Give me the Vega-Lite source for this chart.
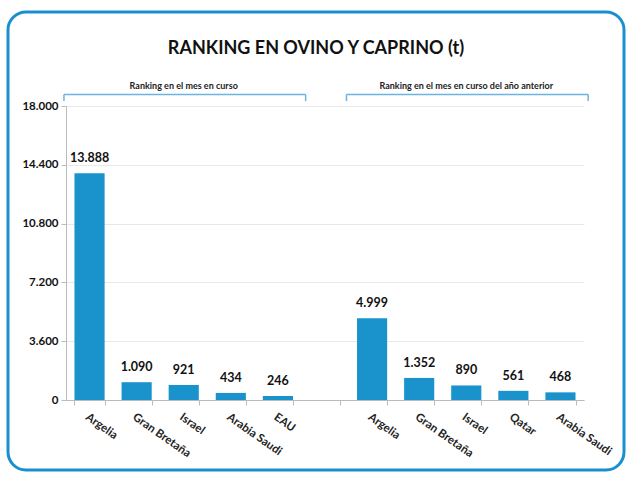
{
  "$schema": "https://vega.github.io/schema/vega-lite/v6.json",
  "width": 616,
  "height": 458,
  "autosize": {"type": "none"},
  "padding": {"left": 8, "top": 12, "right": 3, "bottom": 7},
  "background": "white",
  "config": {
    "locale": {"number": {"decimal": ",", "thousands": ".", "grouping": [3], "currency": ["", " €"]}},
    "view": {"stroke": "#1a8fd0", "strokeWidth": 3, "cornerRadius": 18},
    "font": "Lato"
  },
  "title": {
    "text": "RANKING EN OVINO Y CAPRINO (t)",
    "font": "Lato",
    "fontSize": 18,
    "fontWeight": "bold",
    "color": "#111111",
    "anchor": "middle",
    "frame": "group",
    "offset": -46
  },
  "datasets": {
    "paises": [
      {"clave": "01 Argelia", "toneladas": 13888},
      {"clave": "02 Gran Bretaña", "toneladas": 1090},
      {"clave": "03 Israel", "toneladas": 921},
      {"clave": "04 Arabia Saudi", "toneladas": 434},
      {"clave": "05 EAU", "toneladas": 246},
      {"clave": "07 Argelia", "toneladas": 4999},
      {"clave": "08 Gran Bretaña", "toneladas": 1352},
      {"clave": "09 Israel", "toneladas": 890},
      {"clave": "10 Qatar", "toneladas": 561},
      {"clave": "11 Arabia Saudi", "toneladas": 468}
    ],
    "grupos": [
      {"grupo": "Ranking en el mes en curso", "inicio": "01 Argelia", "fin": "05 EAU", "centro": "03 Israel"},
      {"grupo": "Ranking en el mes en curso del año anterior", "inicio": "07 Argelia", "fin": "11 Arabia Saudi", "centro": "09 Israel"}
    ]
  },
  "layer": [
    {
      "data": {"name": "paises"},
      "mark": {"type": "bar", "color": "#1a93cd"},
      "encoding": {
        "x": {
          "field": "clave",
          "type": "nominal",
          "scale": {
            "domain": ["01 Argelia", "02 Gran Bretaña", "03 Israel", "04 Arabia Saudi", "05 EAU", "06", "07 Argelia", "08 Gran Bretaña", "09 Israel", "10 Qatar", "11 Arabia Saudi"],
            "range": [58, 576],
            "paddingInner": 0.36,
            "paddingOuter": 0.18
          },
          "axis": {
            "title": null,
            "labelExpr": "slice(datum.label, 3)",
            "labelAngle": 35,
            "labelAlign": "left",
            "labelBaseline": "top",
            "labelFontSize": 11.5,
            "labelFontWeight": "bold",
            "labelColor": "#222222",
            "labelPadding": 6,
            "tickBand": "extent",
            "domainColor": "#bbbbbb",
            "tickColor": "#bbbbbb",
            "tickSize": 5,
            "grid": false,
            "offset": -70
          }
        },
        "y": {
          "field": "toneladas",
          "type": "quantitative",
          "scale": {"domain": [0, 18000], "range": [388, 94], "nice": false},
          "axis": {
            "title": null,
            "values": [0, 3600, 7200, 10800, 14400, 18000],
            "format": ",d",
            "labelFontSize": 11.5,
            "labelFontWeight": "bold",
            "labelColor": "#111111",
            "labelPadding": 3,
            "domainColor": "#bbbbbb",
            "tickColor": "#bbbbbb",
            "tickSize": 5,
            "grid": true,
            "gridColor": "#e8e8e8",
            "offset": -58
          }
        }
      }
    },
    {
      "data": {"name": "paises"},
      "mark": {"type": "text", "baseline": "bottom", "dy": -8, "fontSize": 12.5, "fontWeight": "bold", "color": "#111111"},
      "encoding": {
        "x": {"field": "clave", "type": "nominal"},
        "y": {"field": "toneladas", "type": "quantitative"},
        "text": {"field": "toneladas", "type": "quantitative", "format": ",d"}
      }
    },
    {
      "data": {"name": "grupos"},
      "mark": {"type": "rule", "color": "#6bb3e0", "strokeWidth": 1.5},
      "encoding": {
        "x": {"field": "inicio", "type": "nominal", "bandPosition": -0.35},
        "x2": {"field": "fin", "bandPosition": 1.42},
        "y": {"datum": 18700}
      }
    },
    {
      "data": {"name": "grupos"},
      "mark": {"type": "rule", "color": "#6bb3e0", "strokeWidth": 1.5},
      "encoding": {
        "x": {"field": "inicio", "type": "nominal", "bandPosition": -0.35},
        "y": {"datum": 18700},
        "y2": {"datum": 18300}
      }
    },
    {
      "data": {"name": "grupos"},
      "mark": {"type": "rule", "color": "#6bb3e0", "strokeWidth": 1.5},
      "encoding": {
        "x": {"field": "fin", "type": "nominal", "bandPosition": 1.42},
        "y": {"datum": 18700},
        "y2": {"datum": 18300}
      }
    },
    {
      "data": {"name": "grupos"},
      "mark": {"type": "text", "fontSize": 9, "fontWeight": "bold", "color": "#222222", "baseline": "middle"},
      "encoding": {
        "x": {"field": "centro", "type": "nominal"},
        "y": {"datum": 19250},
        "text": {"field": "grupo"}
      }
    }
  ]
}
